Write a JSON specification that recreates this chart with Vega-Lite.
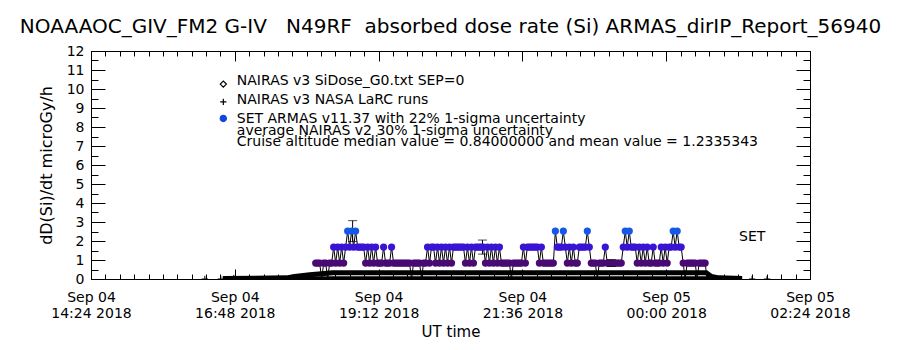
{
"$schema": "https://vega.github.io/schema/vega-lite/v6.json",
"width": 719, "height": 228,
"autosize": "none",
"padding": {"left": 91, "top": 51, "right": 90, "bottom": 71},
"background": "white",
"title": {"text": "NOAAAOC_GIV_FM2 G-IV\u00a0\u00a0\u00a0N49RF\u00a0\u00a0absorbed dose rate (Si) ARMAS_dirIP_Report_56940", "font": "DejaVu Sans", "fontSize": 20, "fontWeight": "normal", "color": "black", "anchor": "middle", "offset": 7},
"config": {"view": {"stroke": "black", "strokeWidth": 1}},
"datasets": {
"armas": [
{"t":"2018-09-04T18:09Z","v":0.84},{"t":"2018-09-04T18:11Z","v":0.84},{"t":"2018-09-04T18:13Z","v":0.84},{"t":"2018-09-04T18:15Z","v":0},{"t":"2018-09-04T18:17Z","v":0.84},{"t":"2018-09-04T18:19Z","v":0.84},{"t":"2018-09-04T18:21Z","v":0},{"t":"2018-09-04T18:23Z","v":0.84},{"t":"2018-09-04T18:25Z","v":0.84},{"t":"2018-09-04T18:27Z","v":1.68},{"t":"2018-09-04T18:29Z","v":0.84},{"t":"2018-09-04T18:31Z","v":1.68},{"t":"2018-09-04T18:33Z","v":0.84},{"t":"2018-09-04T18:35Z","v":1.68},{"t":"2018-09-04T18:37Z","v":0.84},{"t":"2018-09-04T18:39Z","v":1.68},{"t":"2018-09-04T18:41Z","v":2.52},{"t":"2018-09-04T18:43Z","v":1.68},{"t":"2018-09-04T18:45Z","v":2.52},{"t":"2018-09-04T18:47Z","v":1.68},{"t":"2018-09-04T18:49Z","v":2.52},{"t":"2018-09-04T18:51Z","v":1.68},{"t":"2018-09-04T18:53Z","v":1.68},{"t":"2018-09-04T18:55Z","v":1.68},{"t":"2018-09-04T18:57Z","v":1.68},{"t":"2018-09-04T18:59Z","v":0.84},
{"t":"2018-09-04T19:01Z","v":1.68},{"t":"2018-09-04T19:03Z","v":0.84},{"t":"2018-09-04T19:05Z","v":1.68},{"t":"2018-09-04T19:07Z","v":0.84},{"t":"2018-09-04T19:09Z","v":1.68},{"t":"2018-09-04T19:11Z","v":0.84},{"t":"2018-09-04T19:13Z","v":0.84},{"t":"2018-09-04T19:15Z","v":0.84},{"t":"2018-09-04T19:17Z","v":1.68},{"t":"2018-09-04T19:19Z","v":0.84},{"t":"2018-09-04T19:21Z","v":0.84},{"t":"2018-09-04T19:23Z","v":0.84},{"t":"2018-09-04T19:25Z","v":1.68},{"t":"2018-09-04T19:27Z","v":0.84},{"t":"2018-09-04T19:29Z","v":0.84},{"t":"2018-09-04T19:31Z","v":0.84},{"t":"2018-09-04T19:33Z","v":0.84},{"t":"2018-09-04T19:35Z","v":0.84},{"t":"2018-09-04T19:37Z","v":0.84},{"t":"2018-09-04T19:39Z","v":0.84},{"t":"2018-09-04T19:41Z","v":0.84},{"t":"2018-09-04T19:43Z","v":0.84},{"t":"2018-09-04T19:45Z","v":0},{"t":"2018-09-04T19:47Z","v":0.84},{"t":"2018-09-04T19:49Z","v":0.84},{"t":"2018-09-04T19:51Z","v":0.84},{"t":"2018-09-04T19:53Z","v":0.84},{"t":"2018-09-04T19:55Z","v":0},{"t":"2018-09-04T19:57Z","v":0.84},{"t":"2018-09-04T19:59Z","v":0.84},
{"t":"2018-09-04T20:01Z","v":1.68},{"t":"2018-09-04T20:03Z","v":0.84},{"t":"2018-09-04T20:05Z","v":1.68},{"t":"2018-09-04T20:07Z","v":1.68},{"t":"2018-09-04T20:09Z","v":0.84},{"t":"2018-09-04T20:11Z","v":1.68},{"t":"2018-09-04T20:13Z","v":0.84},{"t":"2018-09-04T20:15Z","v":1.68},{"t":"2018-09-04T20:17Z","v":0.84},{"t":"2018-09-04T20:19Z","v":1.68},{"t":"2018-09-04T20:21Z","v":0.84},{"t":"2018-09-04T20:23Z","v":1.68},{"t":"2018-09-04T20:25Z","v":0.84},{"t":"2018-09-04T20:27Z","v":1.68},{"t":"2018-09-04T20:29Z","v":1.68},{"t":"2018-09-04T20:31Z","v":1.68},{"t":"2018-09-04T20:33Z","v":1.68},{"t":"2018-09-04T20:35Z","v":1.68},{"t":"2018-09-04T20:37Z","v":1.68},{"t":"2018-09-04T20:39Z","v":0.84},{"t":"2018-09-04T20:41Z","v":1.68},{"t":"2018-09-04T20:43Z","v":0.84},{"t":"2018-09-04T20:45Z","v":1.68},{"t":"2018-09-04T20:47Z","v":0.84},{"t":"2018-09-04T20:49Z","v":1.68},{"t":"2018-09-04T20:51Z","v":1.68},{"t":"2018-09-04T20:53Z","v":1.68},{"t":"2018-09-04T20:55Z","v":1.68},{"t":"2018-09-04T20:57Z","v":1.68},{"t":"2018-09-04T20:59Z","v":0.84},
{"t":"2018-09-04T21:01Z","v":1.68},{"t":"2018-09-04T21:03Z","v":0.84},{"t":"2018-09-04T21:05Z","v":1.68},{"t":"2018-09-04T21:07Z","v":0.84},{"t":"2018-09-04T21:09Z","v":1.68},{"t":"2018-09-04T21:11Z","v":0.84},{"t":"2018-09-04T21:13Z","v":1.68},{"t":"2018-09-04T21:15Z","v":0.84},{"t":"2018-09-04T21:17Z","v":0.84},{"t":"2018-09-04T21:19Z","v":0.84},{"t":"2018-09-04T21:21Z","v":0.84},{"t":"2018-09-04T21:23Z","v":0.84},{"t":"2018-09-04T21:25Z","v":0},{"t":"2018-09-04T21:27Z","v":0.84},{"t":"2018-09-04T21:29Z","v":0.84},{"t":"2018-09-04T21:31Z","v":0.84},{"t":"2018-09-04T21:33Z","v":0.84},{"t":"2018-09-04T21:35Z","v":0.84},{"t":"2018-09-04T21:37Z","v":1.68},{"t":"2018-09-04T21:39Z","v":0.84},{"t":"2018-09-04T21:41Z","v":1.68},{"t":"2018-09-04T21:43Z","v":1.68},{"t":"2018-09-04T21:45Z","v":1.68},{"t":"2018-09-04T21:47Z","v":1.68},{"t":"2018-09-04T21:49Z","v":1.68},{"t":"2018-09-04T21:51Z","v":1.68},{"t":"2018-09-04T21:53Z","v":0.84},{"t":"2018-09-04T21:55Z","v":1.68},{"t":"2018-09-04T21:57Z","v":0.84},{"t":"2018-09-04T21:59Z","v":0.84},
{"t":"2018-09-04T22:01Z","v":0.84},{"t":"2018-09-04T22:03Z","v":0.84},{"t":"2018-09-04T22:05Z","v":0.84},{"t":"2018-09-04T22:07Z","v":0.84},{"t":"2018-09-04T22:09Z","v":2.52},{"t":"2018-09-04T22:11Z","v":1.68},{"t":"2018-09-04T22:13Z","v":1.68},{"t":"2018-09-04T22:15Z","v":1.68},{"t":"2018-09-04T22:17Z","v":2.52},{"t":"2018-09-04T22:19Z","v":1.68},{"t":"2018-09-04T22:21Z","v":0.84},{"t":"2018-09-04T22:23Z","v":1.68},{"t":"2018-09-04T22:25Z","v":0.84},{"t":"2018-09-04T22:27Z","v":1.68},{"t":"2018-09-04T22:29Z","v":0.84},{"t":"2018-09-04T22:31Z","v":0.84},{"t":"2018-09-04T22:33Z","v":1.68},{"t":"2018-09-04T22:35Z","v":1.68},{"t":"2018-09-04T22:37Z","v":1.68},{"t":"2018-09-04T22:39Z","v":1.68},{"t":"2018-09-04T22:41Z","v":2.52},{"t":"2018-09-04T22:43Z","v":1.68},{"t":"2018-09-04T22:45Z","v":0.84},{"t":"2018-09-04T22:47Z","v":0.84},{"t":"2018-09-04T22:49Z","v":0.84},{"t":"2018-09-04T22:51Z","v":0},{"t":"2018-09-04T22:53Z","v":0.84},{"t":"2018-09-04T22:55Z","v":0.84},{"t":"2018-09-04T22:57Z","v":0.84},{"t":"2018-09-04T22:59Z","v":1.68},
{"t":"2018-09-04T23:01Z","v":0.84},{"t":"2018-09-04T23:03Z","v":0.84},{"t":"2018-09-04T23:05Z","v":0.84},{"t":"2018-09-04T23:07Z","v":0.84},{"t":"2018-09-04T23:09Z","v":0.84},{"t":"2018-09-04T23:11Z","v":0.84},{"t":"2018-09-04T23:13Z","v":0.84},{"t":"2018-09-04T23:15Z","v":0.84},{"t":"2018-09-04T23:17Z","v":1.68},{"t":"2018-09-04T23:19Z","v":2.52},{"t":"2018-09-04T23:21Z","v":1.68},{"t":"2018-09-04T23:23Z","v":2.52},{"t":"2018-09-04T23:25Z","v":1.68},{"t":"2018-09-04T23:27Z","v":1.68},{"t":"2018-09-04T23:29Z","v":1.68},{"t":"2018-09-04T23:31Z","v":0.84},{"t":"2018-09-04T23:33Z","v":1.68},{"t":"2018-09-04T23:35Z","v":0.84},{"t":"2018-09-04T23:37Z","v":1.68},{"t":"2018-09-04T23:39Z","v":0.84},{"t":"2018-09-04T23:41Z","v":1.68},{"t":"2018-09-04T23:43Z","v":0.84},{"t":"2018-09-04T23:45Z","v":0.84},{"t":"2018-09-04T23:47Z","v":1.68},{"t":"2018-09-04T23:49Z","v":0.84},{"t":"2018-09-04T23:51Z","v":0.84},{"t":"2018-09-04T23:53Z","v":0.84},{"t":"2018-09-04T23:55Z","v":1.68},{"t":"2018-09-04T23:57Z","v":0.84},{"t":"2018-09-04T23:59Z","v":1.68},
{"t":"2018-09-05T00:01Z","v":0.84},{"t":"2018-09-05T00:03Z","v":1.68},{"t":"2018-09-05T00:05Z","v":1.68},{"t":"2018-09-05T00:07Z","v":2.52},{"t":"2018-09-05T00:09Z","v":1.68},{"t":"2018-09-05T00:11Z","v":2.52},{"t":"2018-09-05T00:13Z","v":1.68},{"t":"2018-09-05T00:15Z","v":1.68},{"t":"2018-09-05T00:17Z","v":0.84},{"t":"2018-09-05T00:19Z","v":0},{"t":"2018-09-05T00:21Z","v":0.84},{"t":"2018-09-05T00:23Z","v":0.84},{"t":"2018-09-05T00:25Z","v":0.84},{"t":"2018-09-05T00:27Z","v":0.84},{"t":"2018-09-05T00:29Z","v":0.84},{"t":"2018-09-05T00:31Z","v":0},{"t":"2018-09-05T00:33Z","v":0.84},{"t":"2018-09-05T00:35Z","v":0.84},{"t":"2018-09-05T00:37Z","v":0.84},{"t":"2018-09-05T00:39Z","v":0.84},{"t":"2018-09-05T00:41Z","v":0}
],
"sidose": [
{"t":"2018-09-04T16:36Z","v":0.02},{"t":"2018-09-04T17:40Z","v":0.06},{"t":"2018-09-04T17:48Z","v":0.13},{"t":"2018-09-04T18:03Z","v":0.22},{"t":"2018-09-04T18:26Z","v":0.33},{"t":"2018-09-04T19:33Z","v":0.33},{"t":"2018-09-04T21:13Z","v":0.33},{"t":"2018-09-04T22:53Z","v":0.33},{"t":"2018-09-05T00:40Z","v":0.33},{"t":"2018-09-05T00:45Z","v":0.14},{"t":"2018-09-05T00:53Z","v":0.06},{"t":"2018-09-05T01:16Z","v":0.02}
],
"larc": [
{"t":"2018-09-04T16:36Z","v":0.04},{"t":"2018-09-04T18:26Z","v":0.06},{"t":"2018-09-05T00:40Z","v":0.06},{"t":"2018-09-05T01:16Z","v":0.03}
],
"larcpts": [
{"t":"2018-09-04T16:18Z","v":0},{"t":"2018-09-04T16:34Z","v":0},{"t":"2018-09-04T16:47Z","v":0.05},{"t":"2018-09-05T01:26Z","v":0},{"t":"2018-09-05T01:41Z","v":0}
],
"err": [
{"t":"2018-09-04T18:46Z","lo":1.97,"hi":3.07},
{"t":"2018-09-04T20:56Z","lo":1.31,"hi":2.05},
{"t":"2018-09-04T23:05Z","lo":0.66,"hi":1.02}
],
"key": [
{"t":"2018-09-04T16:36:30Z","v":10.26,"s":"SiDose"},
{"t":"2018-09-04T16:36:30Z","v":9.32,"s":"LaRC"},
{"t":"2018-09-04T16:36:30Z","v":8.45,"s":"ARMAS"}
],
"notes": [
{"t":"2018-09-04T16:50Z","v":10.42,"label":"NAIRAS v3 SiDose_G0.txt SEP=0"},
{"t":"2018-09-04T16:50Z","v":9.42,"label":"NAIRAS v3 NASA LaRC runs"},
{"t":"2018-09-04T16:50Z","v":8.42,"label":"SET ARMAS v11.37 with 22% 1-sigma uncertainty"},
{"t":"2018-09-04T16:50Z","v":7.79,"label":"average NAIRAS v2 30% 1-sigma uncertainty"},
{"t":"2018-09-04T16:50Z","v":7.21,"label":"Cruise altitude median value = 0.84000000 and mean value = 1.2335343"},
{"t":"2018-09-05T01:13Z","v":2.21,"label":"SET"}
]
},
"resolve": {"axis": {"x": "independent", "y": "independent"}},
"layer": [
{
 "data": {"name": "armas"},
 "mark": {"type": "line", "color": "black", "strokeWidth": 1, "clip": true},
 "encoding": {
  "x": {"field": "t", "type": "temporal",
   "scale": {"type": "utc", "domain": [1536071040000, 1536114240000]},
   "axis": {"orient": "bottom",
    "values": [1536071040000,1536071904000,1536072768000,1536073632000,1536074496000,1536075360000,1536076224000,1536077088000,1536077952000,1536078816000,1536079680000,1536080544000,1536081408000,1536082272000,1536083136000,1536084000000,1536084864000,1536085728000,1536086592000,1536087456000,1536088320000,1536089184000,1536090048000,1536090912000,1536091776000,1536092640000,1536093504000,1536094368000,1536095232000,1536096096000,1536096960000,1536097824000,1536098688000,1536099552000,1536100416000,1536101280000,1536102144000,1536103008000,1536103872000,1536104736000,1536105600000,1536106464000,1536107328000,1536108192000,1536109056000,1536109920000,1536110784000,1536111648000,1536112512000,1536113376000,1536114240000],
    "labelExpr": "((datum.value - 1536071040000) % 8640000 == 0) ? [utcFormat(datum.value, '%b %d'), utcFormat(datum.value, '%H:%M %Y')] : ''",
    "tickSize": {"condition": {"test": "(datum.value - 1536071040000) % 8640000 == 0", "value": -10}, "value": -5},
    "tickColor": "black", "domainColor": "black", "labelColor": "black", "grid": false,
    "labelFont": "DejaVu Sans", "labelFontSize": 14, "labelLineHeight": 16, "labelPadding": 21,
    "labelFlush": false, "labelOverlap": false, "labelBound": false,
    "title": "UT time", "titleFont": "DejaVu Sans", "titleFontSize": 15, "titleFontWeight": "normal", "titleColor": "black", "titlePadding": 4}
  },
  "y": {"field": "v", "type": "quantitative",
   "scale": {"domain": [0, 12], "nice": false, "zero": false},
   "axis": {"orient": "left",
    "values": [0,0.5,1,1.5,2,2.5,3,3.5,4,4.5,5,5.5,6,6.5,7,7.5,8,8.5,9,9.5,10,10.5,11,11.5,12],
    "labelExpr": "datum.value % 1 == 0 ? format(datum.value, 'd') : ''",
    "tickSize": {"condition": {"test": "datum.value % 1 == 0", "value": -14}, "value": -7},
    "tickColor": "black", "domainColor": "black", "labelColor": "black", "grid": false,
    "labelFont": "DejaVu Sans", "labelFontSize": 14, "labelPadding": 21, "labelOverlap": false, "labelFlush": false, "labelBound": false,
    "title": "dD(Si)/dt microGy/h", "titleFont": "DejaVu Sans", "titleFontSize": 16, "titleFontWeight": "normal", "titleColor": "black", "titlePadding": 12}
  },
  "order": {"field": "t", "type": "temporal"}
 }
},
{
 "data": {"name": "sidose"},
 "mark": {"type": "line", "color": "black", "strokeWidth": 5, "clip": true},
 "encoding": {
  "x": {"field": "t", "type": "temporal", "scale": {"type": "utc", "domain": [1536071040000, 1536114240000]},
   "axis": {"orient": "top",
    "values": [1536071040000,1536071904000,1536072768000,1536073632000,1536074496000,1536075360000,1536076224000,1536077088000,1536077952000,1536078816000,1536079680000,1536080544000,1536081408000,1536082272000,1536083136000,1536084000000,1536084864000,1536085728000,1536086592000,1536087456000,1536088320000,1536089184000,1536090048000,1536090912000,1536091776000,1536092640000,1536093504000,1536094368000,1536095232000,1536096096000,1536096960000,1536097824000,1536098688000,1536099552000,1536100416000,1536101280000,1536102144000,1536103008000,1536103872000,1536104736000,1536105600000,1536106464000,1536107328000,1536108192000,1536109056000,1536109920000,1536110784000,1536111648000,1536112512000,1536113376000,1536114240000],
    "labels": false, "title": null, "grid": false,
    "tickSize": {"condition": {"test": "(datum.value - 1536071040000) % 8640000 == 0", "value": -10}, "value": -5},
    "tickColor": "black", "domainColor": "black"}
  },
  "y": {"field": "v", "type": "quantitative", "scale": {"domain": [0, 12], "nice": false, "zero": false},
   "axis": {"orient": "right",
    "values": [0,0.5,1,1.5,2,2.5,3,3.5,4,4.5,5,5.5,6,6.5,7,7.5,8,8.5,9,9.5,10,10.5,11,11.5,12],
    "labels": false, "title": null, "grid": false,
    "tickSize": {"condition": {"test": "datum.value % 1 == 0", "value": -14}, "value": -7},
    "tickColor": "black", "domainColor": "black"}
  }
 }
},
{
 "data": {"name": "larc"},
 "mark": {"type": "line", "color": "black", "strokeWidth": 3, "clip": true},
 "encoding": {
  "x": {"field": "t", "type": "temporal", "scale": {"type": "utc", "domain": [1536071040000, 1536114240000]}, "axis": null},
  "y": {"field": "v", "type": "quantitative", "scale": {"domain": [0, 12], "nice": false, "zero": false}, "axis": null}
 }
},
{
 "data": {"name": "larcpts"},
 "mark": {"type": "point", "shape": "M-1,0L1,0M0,-1L0,1", "filled": false, "color": "black", "strokeWidth": 1, "size": 40, "opacity": 1, "clip": true},
 "encoding": {
  "x": {"field": "t", "type": "temporal", "scale": {"type": "utc", "domain": [1536071040000, 1536114240000]}, "axis": null},
  "y": {"field": "v", "type": "quantitative", "scale": {"domain": [0, 12], "nice": false, "zero": false}, "axis": null}
 }
},
{
 "data": {"name": "err"},
 "mark": {"type": "rule", "color": "black", "strokeWidth": 1},
 "encoding": {
  "x": {"field": "t", "type": "temporal", "scale": {"type": "utc", "domain": [1536071040000, 1536114240000]}, "axis": null},
  "y": {"field": "lo", "type": "quantitative", "scale": {"domain": [0, 12], "nice": false, "zero": false}, "axis": null},
  "y2": {"field": "hi"}
 }
},
{
 "data": {"name": "armas"},
 "transform": [{"filter": "datum.v > 0"}],
 "mark": {"type": "point", "shape": "circle", "filled": true, "opacity": 1, "size": 52, "clip": true},
 "encoding": {
  "x": {"field": "t", "type": "temporal", "scale": {"type": "utc", "domain": [1536071040000, 1536114240000]}, "axis": null},
  "y": {"field": "v", "type": "quantitative", "scale": {"domain": [0, 12], "nice": false, "zero": false}, "axis": null},
  "color": {"field": "v", "type": "ordinal", "scale": {"domain": [0.84, 1.68, 2.52], "range": ["#4a0a73", "#3a14d4", "#1658e6"]}, "legend": null}
 }
},
{
 "data": {"name": "err"},
 "mark": {"type": "tick", "orient": "horizontal", "color": "black", "size": 9, "thickness": 1},
 "encoding": {
  "x": {"field": "t", "type": "temporal", "scale": {"type": "utc", "domain": [1536071040000, 1536114240000]}, "axis": null},
  "y": {"field": "hi", "type": "quantitative", "scale": {"domain": [0, 12], "nice": false, "zero": false}, "axis": null}
 }
},
{
 "data": {"name": "err"},
 "mark": {"type": "tick", "orient": "horizontal", "color": "black", "size": 9, "thickness": 1},
 "encoding": {
  "x": {"field": "t", "type": "temporal", "scale": {"type": "utc", "domain": [1536071040000, 1536114240000]}, "axis": null},
  "y": {"field": "lo", "type": "quantitative", "scale": {"domain": [0, 12], "nice": false, "zero": false}, "axis": null}
 }
},
{
 "data": {"name": "key"},
 "mark": {"type": "point", "filled": true, "opacity": 1, "size": 38, "strokeWidth": 1.2},
 "encoding": {
  "x": {"field": "t", "type": "temporal", "scale": {"type": "utc", "domain": [1536071040000, 1536114240000]}, "axis": null},
  "y": {"field": "v", "type": "quantitative", "scale": {"domain": [0, 12], "nice": false, "zero": false}, "axis": null},
  "shape": {"field": "s", "type": "nominal", "scale": {"domain": ["SiDose", "LaRC", "ARMAS"], "range": ["diamond", "M-1,0L1,0M0,-1L0,1", "circle"]}, "legend": null},
  "fill": {"field": "s", "type": "nominal", "scale": {"domain": ["SiDose", "LaRC", "ARMAS"], "range": ["white", "black", "#1446dc"]}, "legend": null},
  "stroke": {"field": "s", "type": "nominal", "scale": {"domain": ["SiDose", "LaRC", "ARMAS"], "range": ["black", "black", "#1446dc"]}, "legend": null}
 }
},
{
 "data": {"name": "notes"},
 "mark": {"type": "text", "align": "left", "baseline": "middle", "font": "DejaVu Sans", "fontSize": 14, "color": "black"},
 "encoding": {
  "x": {"field": "t", "type": "temporal", "scale": {"type": "utc", "domain": [1536071040000, 1536114240000]}, "axis": null},
  "y": {"field": "v", "type": "quantitative", "scale": {"domain": [0, 12], "nice": false, "zero": false}, "axis": null},
  "text": {"field": "label"}
 }
}
]
}
